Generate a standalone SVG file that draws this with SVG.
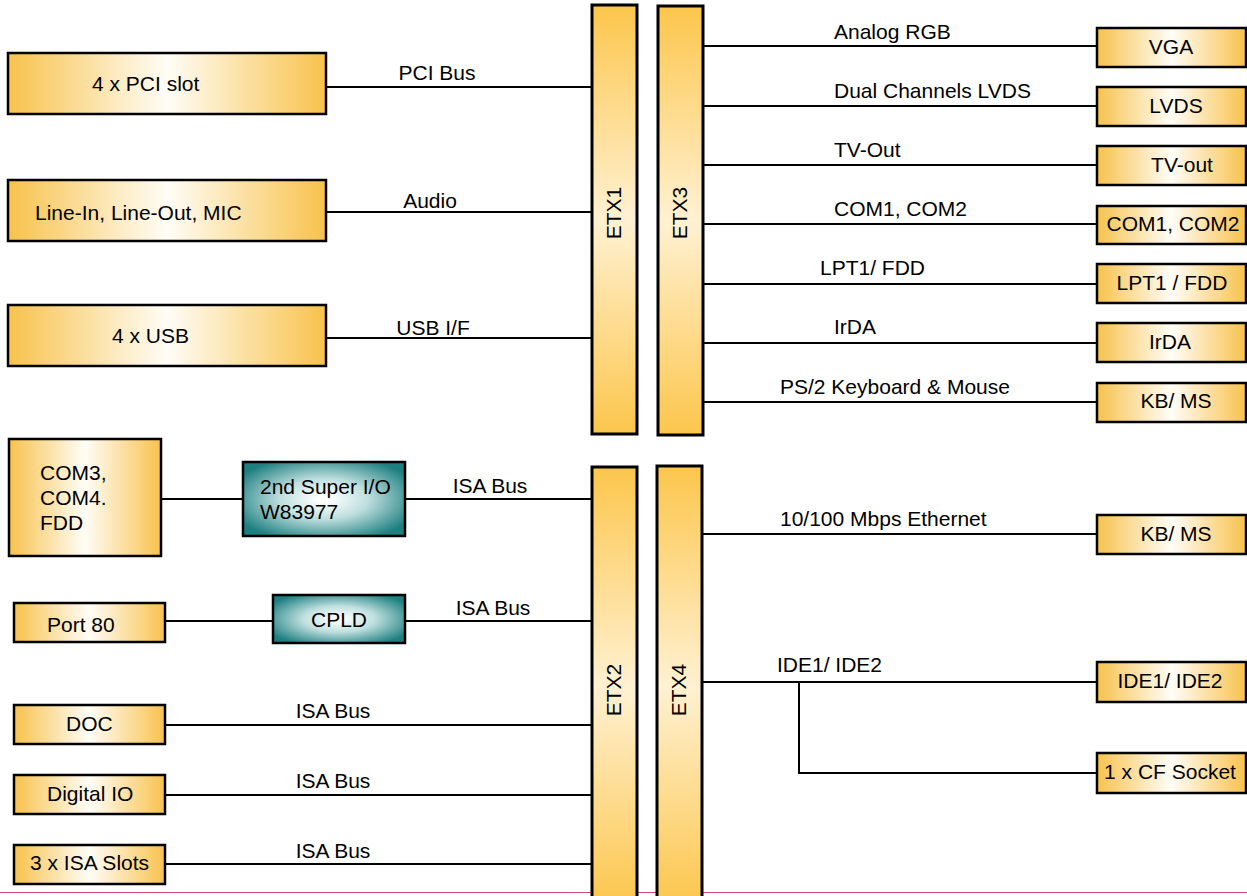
<svg xmlns="http://www.w3.org/2000/svg" width="1247" height="896" viewBox="0 0 1247 896">
<defs>
<linearGradient id="gOr" x1="0" y1="0" x2="1" y2="0">
<stop offset="0" stop-color="#f8c24c"/>
<stop offset="0.5" stop-color="#fffdf7"/>
<stop offset="1" stop-color="#f8c24c"/>
</linearGradient>
<linearGradient id="gBar" x1="0" y1="0" x2="0" y2="1">
<stop offset="0" stop-color="#fcc64c"/>
<stop offset="0.5" stop-color="#fff1d2"/>
<stop offset="1" stop-color="#fcc64c"/>
</linearGradient>
<radialGradient id="gTeal" cx="0.5" cy="0.5" r="0.6">
<stop offset="0.05" stop-color="#ffffff"/>
<stop offset="0.45" stop-color="#bfdfdf"/>
<stop offset="1" stop-color="#1e7f80"/>
</radialGradient>
</defs>
<style>
.box{fill:url(#gOr);stroke:#000;stroke-width:2.5}
.bar{fill:url(#gBar);stroke:#000;stroke-width:3}
.teal{fill:url(#gTeal);stroke:#000;stroke-width:2.5}
.t{font-family:"Liberation Sans",Arial,sans-serif;font-size:21px;fill:#000}
.c line,.c polyline{stroke:#000;stroke-width:2;fill:none}
</style>
<rect width="1247" height="896" fill="#fff"/>
<line x1="0" y1="892.5" x2="1247" y2="892.5" stroke="#d8487a" stroke-width="1.2"/>

<g class="c" id="connectors">
<line x1="327" y1="87" x2="592" y2="87"/>
<line x1="327" y1="212" x2="592" y2="212"/>
<line x1="327" y1="338" x2="592" y2="338"/>
<line x1="161" y1="499" x2="243" y2="499"/>
<line x1="405" y1="499" x2="592" y2="499"/>
<line x1="165" y1="621" x2="273" y2="621"/>
<line x1="405" y1="621" x2="592" y2="621"/>
<line x1="165" y1="725" x2="592" y2="725"/>
<line x1="165" y1="795" x2="592" y2="795"/>
<line x1="165" y1="864" x2="592" y2="864"/>
<line x1="703" y1="46" x2="1097" y2="46"/>
<line x1="703" y1="106" x2="1097" y2="106"/>
<line x1="703" y1="165" x2="1097" y2="165"/>
<line x1="703" y1="224" x2="1097" y2="224"/>
<line x1="703" y1="284" x2="1097" y2="284"/>
<line x1="703" y1="343" x2="1097" y2="343"/>
<line x1="703" y1="402" x2="1097" y2="402"/>
<line x1="702" y1="534" x2="1097" y2="534"/>
<line x1="702" y1="682" x2="1097" y2="682"/>
<polyline points="799,682 799,773 1097,773"/>
<text class="t" x="437" y="80" text-anchor="middle">PCI Bus</text>
<text class="t" x="430" y="208" text-anchor="middle">Audio</text>
<text class="t" x="433" y="335" text-anchor="middle">USB I/F</text>
<text class="t" x="490" y="493" text-anchor="middle">ISA Bus</text>
<text class="t" x="493" y="615" text-anchor="middle">ISA Bus</text>
<text class="t" x="333" y="718" text-anchor="middle">ISA Bus</text>
<text class="t" x="333" y="788" text-anchor="middle">ISA Bus</text>
<text class="t" x="333" y="858" text-anchor="middle">ISA Bus</text>
<text class="t" x="834" y="39">Analog RGB</text>
<text class="t" x="834" y="98">Dual Channels LVDS</text>
<text class="t" x="834" y="157">TV-Out</text>
<text class="t" x="834" y="216">COM1, COM2</text>
<text class="t" x="820" y="275">LPT1/ FDD</text>
<text class="t" x="834" y="334">IrDA</text>
<text class="t" x="780" y="394">PS/2 Keyboard &amp; Mouse</text>
<text class="t" x="780" y="526">10/100 Mbps Ethernet</text>
<text class="t" x="777" y="672">IDE1/ IDE2</text>
</g>

<g id="etx1"><rect class="bar" x="592" y="5" width="45" height="429"/><text class="t" transform="translate(621,213) rotate(-90)" text-anchor="middle">ETX1</text></g>
<g id="etx3"><rect class="bar" x="658" y="6" width="45" height="429"/><text class="t" transform="translate(687,213) rotate(-90)" text-anchor="middle">ETX3</text></g>
<g id="etx2"><rect class="bar" x="592" y="467" width="45" height="440"/><text class="t" transform="translate(621,690) rotate(-90)" text-anchor="middle">ETX2</text></g>
<g id="etx4"><rect class="bar" x="657" y="466" width="45" height="440"/><text class="t" transform="translate(686,690) rotate(-90)" text-anchor="middle">ETX4</text></g>

<g id="pci"><rect class="box" x="8" y="53" width="318" height="61"/><text class="t" x="92" y="91">4 x PCI slot</text></g>
<g id="audio"><rect class="box" x="8" y="180" width="318" height="61"/><text class="t" x="35" y="220">Line-In, Line-Out, MIC</text></g>
<g id="usb"><rect class="box" x="8" y="305" width="318" height="61"/><text class="t" x="112" y="343">4 x USB</text></g>
<g id="com34"><rect class="box" x="9" y="439" width="152" height="117"/><text class="t" x="40" y="480">COM3,</text><text class="t" x="40" y="505">COM4.</text><text class="t" x="40" y="530">FDD</text></g>
<g id="superio"><rect class="teal" x="243" y="462" width="162" height="74"/><text class="t" x="260" y="494">2nd Super I/O</text><text class="t" x="260" y="519">W83977</text></g>
<g id="cpld"><rect class="teal" x="273" y="595" width="132" height="48"/><text class="t" x="339" y="627" text-anchor="middle">CPLD</text></g>
<g id="port80"><rect class="box" x="14" y="603" width="151" height="39"/><text class="t" x="47" y="632">Port 80</text></g>
<g id="doc"><rect class="box" x="14" y="705" width="151" height="39"/><text class="t" x="66" y="731">DOC</text></g>
<g id="dio"><rect class="box" x="14" y="775" width="151" height="39"/><text class="t" x="47" y="801">Digital IO</text></g>
<g id="isa"><rect class="box" x="14" y="845" width="151" height="39"/><text class="t" x="30" y="870">3 x ISA Slots</text></g>

<g id="vga"><rect class="box" x="1097" y="28" width="149" height="39"/><text class="t" x="1171" y="54" text-anchor="middle">VGA</text></g>
<g id="lvds"><rect class="box" x="1097" y="87" width="149" height="39"/><text class="t" x="1176" y="113" text-anchor="middle">LVDS</text></g>
<g id="tvout"><rect class="box" x="1097" y="146" width="149" height="39"/><text class="t" x="1182" y="172" text-anchor="middle">TV-out</text></g>
<g id="com12"><rect class="box" x="1097" y="206" width="149" height="38"/><text class="t" x="1173" y="231" text-anchor="middle">COM1, COM2</text></g>
<g id="lpt"><rect class="box" x="1097" y="264" width="149" height="39"/><text class="t" x="1172" y="290" text-anchor="middle">LPT1 / FDD</text></g>
<g id="irda"><rect class="box" x="1097" y="323" width="149" height="39"/><text class="t" x="1170" y="349" text-anchor="middle">IrDA</text></g>
<g id="kbms"><rect class="box" x="1097" y="383" width="149" height="39"/><text class="t" x="1176" y="408" text-anchor="middle">KB/ MS</text></g>
<g id="eth"><rect class="box" x="1097" y="515" width="149" height="39"/><text class="t" x="1176" y="541" text-anchor="middle">KB/ MS</text></g>
<g id="ide"><rect class="box" x="1097" y="662" width="149" height="40"/><text class="t" x="1170" y="688" text-anchor="middle">IDE1/ IDE2</text></g>
<g id="cf"><rect class="box" x="1097" y="753" width="149" height="40"/><text class="t" x="1170" y="779" text-anchor="middle">1 x CF Socket</text></g>
</svg>
